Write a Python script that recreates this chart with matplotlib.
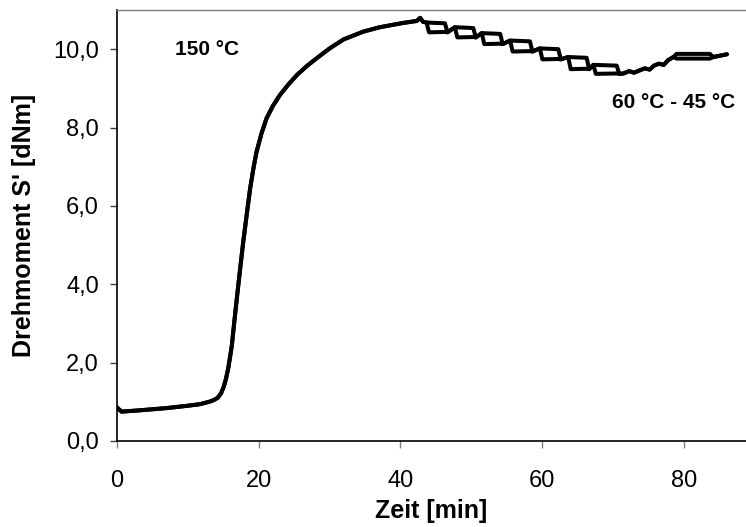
import matplotlib
matplotlib.use("Agg")
import matplotlib.pyplot as plt
from matplotlib.ticker import FuncFormatter

plt.rcParams['font.family'] = ['Liberation Sans', 'DejaVu Sans']

# common part of the curve (heating at 150 °C, up to the first step)
zeit_start = [0.0, 0.2, 0.65, 3.0, 7.0, 10.0, 11.7, 13.0, 13.6, 14.2, 14.7, 15.1,
              15.4, 15.7, 16.2, 16.7, 17.2, 17.8, 18.4, 18.8, 19.3, 19.7, 20.4,
              21.1, 22.0, 23.0, 24.2, 25.4, 26.8, 28.2, 30.1, 32.0, 34.8, 37.1,
              40.4, 42.3, 42.8, 43.2, 43.7]
moment_start = [0.86, 0.82, 0.75, 0.78, 0.84, 0.90, 0.94, 1.00, 1.04, 1.10, 1.22, 1.40,
                1.60, 1.85, 2.42, 3.28, 4.10, 5.05, 5.90, 6.45, 7.00, 7.38, 7.85,
                8.23, 8.55, 8.83, 9.10, 9.34, 9.57, 9.77, 10.03, 10.25, 10.45, 10.56,
                10.67, 10.72, 10.80, 10.70, 10.68]

# temperature steps 60 °C / 45 °C: each step leaves a small loop
stufe_links = [43.7, 47.7, 51.5, 55.5, 59.7, 63.7, 67.25]
stufe_rechts = [46.3, 50.3, 54.1, 58.3, 62.3, 66.3, 70.55]
stufe_oben = [10.68, 10.56, 10.41, 10.22, 10.02, 9.80, 9.60]
stufe_unten = [10.43, 10.30, 10.13, 9.94, 9.74, 9.49, 9.37]

# end of the run
zeit_ende = [70.9, 71.5, 72.3, 73.0, 73.8, 74.5, 75.2, 75.8, 76.5, 77.2, 77.8, 78.55,
             79.0, 83.7, 84.2, 86.1]
moment_ende = [9.37, 9.38, 9.44, 9.40, 9.46, 9.51, 9.48, 9.58, 9.63, 9.60, 9.72, 9.80,
               9.88, 9.88, 9.80, 9.87]
moment_ende_unten = [9.37, 9.38, 9.44, 9.40, 9.46, 9.51, 9.48, 9.58, 9.63, 9.60, 9.72, 9.80,
                     9.76, 9.76, 9.80, 9.87]

# build upper and lower trace through the step loops
x_oben, y_oben = list(zeit_start), list(moment_start)
x_unten, y_unten = list(zeit_start), list(moment_start)
for i in range(len(stufe_links)):
    # upper trace: flat at the top, drops at the right side
    x_oben += [stufe_links[i], stufe_rechts[i], stufe_rechts[i] + 0.35]
    y_oben += [stufe_oben[i], stufe_oben[i] - 0.02, stufe_unten[i]]
    # lower trace: drops at the left side, flat at the bottom
    x_unten += [stufe_links[i], stufe_links[i] + 0.35, stufe_rechts[i], stufe_rechts[i] + 0.35]
    y_unten += [stufe_oben[i], stufe_unten[i], stufe_unten[i] + 0.01, stufe_unten[i]]
x_oben += zeit_ende
y_oben += moment_ende
x_unten += zeit_ende
y_unten += moment_ende_unten

fig = plt.figure(figsize=(7.46, 5.27), dpi=100)
ax = fig.add_axes([117 / 746, 86 / 527, 629 / 746, 431 / 527])

ax.plot(x_oben, y_oben, color="black", lw=2.9, solid_joinstyle="round", solid_capstyle="round")
ax.plot(x_unten, y_unten, color="black", lw=2.9, solid_joinstyle="round", solid_capstyle="round")

ax.set_xlim(0, 88.8)
ax.set_ylim(0, 11.0)
ax.set_xticks([0, 20, 40, 60, 80])
ax.set_yticks([0, 2, 4, 6, 8, 10])
ax.yaxis.set_major_formatter(FuncFormatter(lambda v, p: f"{v:.1f}".replace(".", ",")))

ax.tick_params(axis="both", direction="out", length=5, width=1, labelsize=17)
ax.tick_params(axis="y", pad=8, color="#404040")
ax.tick_params(axis="x", pad=16, color="#808080")

ax.spines["right"].set_visible(False)
ax.spines["top"].set_color("#808080")
ax.spines["top"].set_linewidth(1.0)
ax.spines["left"].set_linewidth(1.2)
ax.spines["bottom"].set_linewidth(1.2)

ax.set_xlabel("Zeit [min]", fontsize=18, fontweight="bold", labelpad=5)
ax.set_ylabel("Drehmoment S' [dNm]", fontsize=18, fontweight="bold", labelpad=12)

ax.text(8.2, 9.98, "150 °C", fontsize=15, fontweight="bold", ha="left", va="center")
ax.text(69.9, 8.63, "60 °C - 45 °C", fontsize=15, fontweight="bold", ha="left", va="center")

fig.savefig("out.png", dpi=100)
